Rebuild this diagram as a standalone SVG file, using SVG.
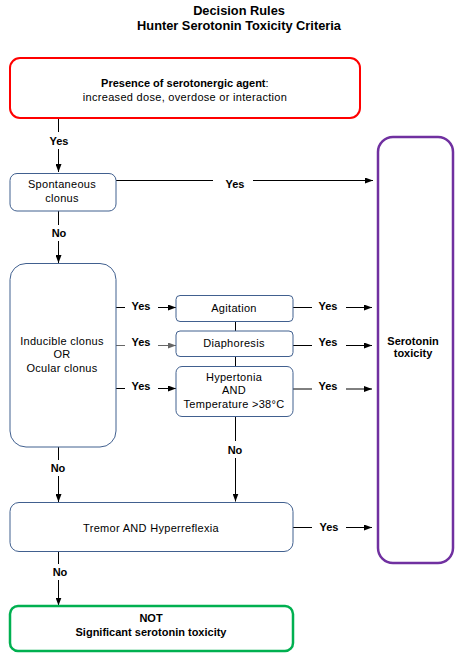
<svg xmlns="http://www.w3.org/2000/svg" width="462" height="663" viewBox="0 0 462 663">
<defs>
<marker id="ah" markerWidth="8" markerHeight="6" refX="8" refY="3" orient="auto" markerUnits="userSpaceOnUse">
<path d="M0,0 L8,3 L0,6 Z" fill="#000"/>
</marker>
<marker id="ahg" markerWidth="8" markerHeight="6" refX="8" refY="3" orient="auto" markerUnits="userSpaceOnUse">
<path d="M0,0 L8,3 L0,6 Z" fill="#666"/>
</marker>
<style>
text{font-family:"Liberation Sans",Arial,sans-serif;font-size:11px;fill:#000;text-anchor:middle;letter-spacing:0.3px}
.b{font-weight:bold;letter-spacing:0}
.t{font-weight:bold;font-size:12.8px;letter-spacing:0}
.box{fill:#fff;stroke:#41608f;stroke-width:1}
.red{fill:#fff;stroke:#ff0000;stroke-width:2}
.pur{fill:#fff;stroke:#7030a0;stroke-width:2.5}
.grn{fill:#fff;stroke:#00b050;stroke-width:2.5}
.ln{fill:none;stroke:#000;stroke-width:1}
.lg{fill:none;stroke:#666;stroke-width:1.2}
</style>
</defs>
<g id="title">
<text class="t" x="239" y="15">Decision Rules</text>
<text class="t" x="239" y="30">Hunter Serotonin Toxicity Criteria</text>
</g>
<g id="connectors">
<path class="ln" d="M58.5,118 V132 M58.5,149 V172" marker-end="url(#ah)"/>
<path class="ln" d="M116,180.5 H213 M253,180.5 H373" marker-end="url(#ah)"/>
<path class="ln" d="M58.5,211 V225 M58.5,241 V263" marker-end="url(#ah)"/>
<path class="ln" d="M116,307.5 H125 M158,307.5 H176" marker-end="url(#ah)"/>
<path class="lg" d="M116,345.5 H125 M158,345.5 H176" marker-end="url(#ahg)"/>
<path class="ln" d="M116,388.5 H125 M158,388.5 H176" marker-end="url(#ah)"/>
<path class="ln" d="M293,307.5 H312 M346,307.5 H372" marker-end="url(#ah)"/>
<path class="ln" d="M293,345.5 H312 M346,345.5 H372" marker-end="url(#ah)"/>
<path class="ln" d="M293,389 H312 M346,389 H372" marker-end="url(#ah)"/>
<path class="ln" d="M235.5,321.5 V331 M235.5,356.5 V366.5"/>
<path class="ln" d="M235.5,416.5 V441 M235.5,458 V501.5" marker-end="url(#ah)"/>
<path class="ln" d="M58.5,447 V460 M58.5,476 V502" marker-end="url(#ah)"/>
<path class="ln" d="M293,527.5 H312 M346,527.5 H372" marker-end="url(#ah)"/>
<path class="ln" d="M58.5,551.5 V564 M58.5,580 V605.5" marker-end="url(#ah)"/>
<text class="b" x="59" y="145">Yes</text>
<text class="b" x="235" y="188">Yes</text>
<text class="b" x="59" y="237">No</text>
<text class="b" x="141" y="310">Yes</text>
<text class="b" x="141" y="346">Yes</text>
<text class="b" x="141" y="390">Yes</text>
<text class="b" x="328" y="310">Yes</text>
<text class="b" x="328" y="346">Yes</text>
<text class="b" x="328" y="390">Yes</text>
<text class="b" x="235" y="454">No</text>
<text class="b" x="58" y="472">No</text>
<text class="b" x="329" y="531">Yes</text>
<text class="b" x="60" y="576">No</text>
</g>
<g id="presence">
<rect class="red" x="10" y="58" width="350" height="60" rx="10"/>
<text x="185" y="87"><tspan class="b">Presence of serotonergic agent</tspan>:</text>
<text x="185" y="101">increased dose, overdose or interaction</text>
</g>
<g id="spontaneous">
<rect class="box" x="10" y="173.5" width="106" height="37.5" rx="7"/>
<text x="62" y="188">Spontaneous</text>
<text x="62" y="202">clonus</text>
</g>
<g id="inducible">
<rect class="box" x="10" y="263.5" width="106" height="183.5" rx="16"/>
<text x="62" y="345">Inducible clonus</text>
<text x="62" y="358">OR</text>
<text x="62" y="372">Ocular clonus</text>
</g>
<g id="agitation">
<rect class="box" x="176" y="295.5" width="117" height="26" rx="4"/>
<text x="234" y="311.5">Agitation</text>
</g>
<g id="diaphoresis">
<rect class="box" x="176" y="331" width="117" height="25.5" rx="4"/>
<text x="234" y="347">Diaphoresis</text>
</g>
<g id="hypertonia">
<rect class="box" x="176" y="366.5" width="117" height="50" rx="6"/>
<text x="234" y="381">Hypertonia</text>
<text x="234" y="394">AND</text>
<text x="234" y="407.5">Temperature &gt;38°C</text>
</g>
<g id="tremor">
<rect class="box" x="10" y="502.5" width="283" height="49" rx="9"/>
<text x="151" y="532">Tremor AND Hyperreflexia</text>
</g>
<g id="serotonin">
<rect class="pur" x="378" y="137" width="75" height="426" rx="15"/>
<text class="b" x="413" y="345">Serotonin</text>
<text class="b" x="413" y="357">toxicity</text>
</g>
<g id="not">
<rect class="grn" x="10" y="606" width="283" height="45" rx="8"/>
<text class="b" x="151" y="622">NOT</text>
<text class="b" x="151" y="636">Significant serotonin toxicity</text>
</g>
</svg>
